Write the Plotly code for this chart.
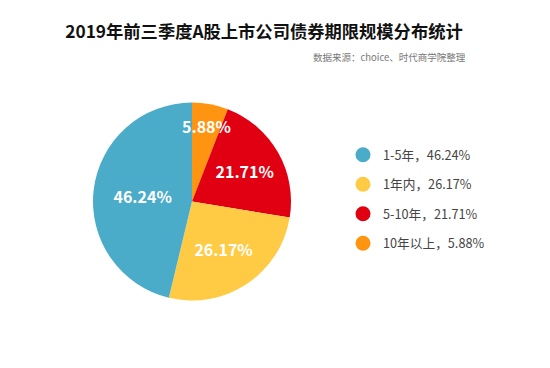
import math
import plotly.graph_objects as go

categories = ["10年以上", "5-10年", "1年内", "1-5年"]
values = [5.88, 21.71, 26.17, 46.24]
colors = ["#FF9410", "#E10011", "#FFCB45", "#4AACC8"]
legend_order = ["1-5年", "1年内", "5-10年", "10年以上"]

title = "2019年前三季度A股上市公司债券期限规模分布统计"
source = "数据来源：choice、时代商学院整理"

W, H = 550, 368
CX, CY, R = 192, 201.5, 99

cmap = dict(zip(categories, colors))
vmap = dict(zip(categories, values))

fig = go.Figure()
fig.add_trace(go.Pie(
    labels=categories, values=values, sort=False, direction="clockwise", rotation=0,
    marker=dict(colors=colors, line=dict(width=0)),
    texttemplate="%{value:.2f}%",
    textposition=["none", "inside", "inside", "inside"], insidetextorientation="horizontal",
    textfont=dict(family="Noto Sans CJK SC", size=16, color="white", weight="bold"),
    showlegend=False, hoverinfo="skip",
    domain=dict(x=[(CX - R) / W, (CX + R) / W], y=[(H - CY - R) / H, (H - CY + R) / H]),
))
for i, c in enumerate(legend_order):
    fig.add_trace(go.Scatter(
        x=[None], y=[None], mode="markers", name=f"{c}，{vmap[c]:.2f}%",
        marker=dict(symbol="circle", size=15, color=cmap[c]),
        legendgroup=f"g{i}", showlegend=True,
    ))

# label for the small slice, placed from its value along the slice bisector
total = sum(values)
mid = (values[0] / 2) / total * 2 * math.pi
rr = 0.78 * R
ann_small = dict(text=f"{values[0]:.2f}%", x=(CX + rr * math.sin(mid)) / W,
                 y=1 - (CY - rr * math.cos(mid)) / H, xref="paper", yref="paper",
                 xanchor="center", yanchor="middle", showarrow=False,
                 font=dict(family="Noto Sans CJK SC", size=16, color="white", weight="bold"))

fig.update_layout(
    width=W, height=H, margin=dict(l=0, r=0, t=0, b=0),
    paper_bgcolor="white", plot_bgcolor="white",
    xaxis=dict(visible=False), yaxis=dict(visible=False),
    title=dict(text=title, x=264 / W, xanchor="center", y=1 - 32 / H, yanchor="middle",
               font=dict(family="Noto Sans CJK SC", size=17.3, color="#111111", weight="bold")),
    legend=dict(x=343 / W, y=1 - 140 / H, xanchor="left", yanchor="top",
                font=dict(family="Noto Sans CJK SC", size=12.7, color="#444444"),
                tracegroupgap=10, itemwidth=30, bgcolor="rgba(0,0,0,0)"),
    annotations=[dict(text=source, x=468 / W, y=1 - 57 / H, xref="paper", yref="paper",
                      xanchor="right", yanchor="middle", showarrow=False,
                      font=dict(family="Noto Sans CJK SC", size=9.5, color="#777777")),
                 ann_small],
)
fig.write_html("out.html", config={"displayModeBar": False},
               post_script="document.body.style.margin='0';")
